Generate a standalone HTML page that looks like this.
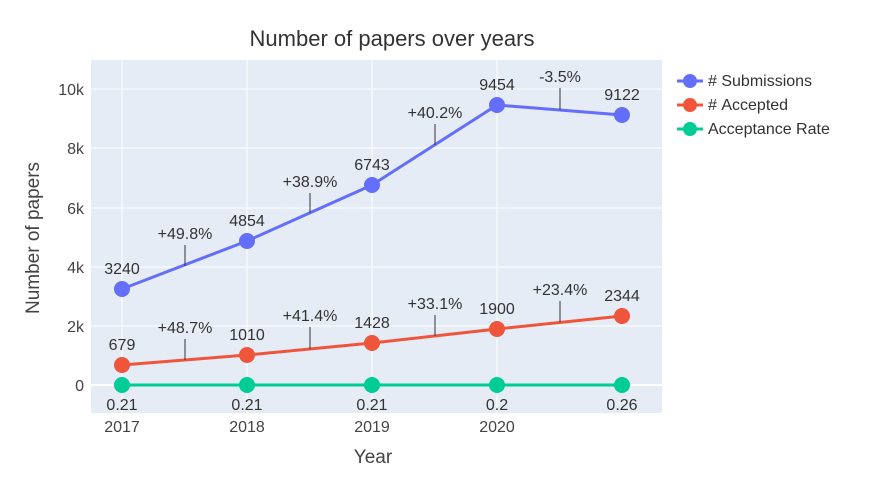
<!DOCTYPE html>
<html><head><meta charset="utf-8"><style>
html,body{margin:0;padding:0;background:#fff;}
svg{display:block;font-family:"Liberation Sans",sans-serif;}
</style></head><body>
<svg width="874" height="477" viewBox="0 0 874 477">
<rect x="91" y="60" width="571" height="353" fill="#e5ecf6"/>
<g stroke="#fff" stroke-width="1">
<line x1="122" y1="60" x2="122" y2="413"/><line x1="247" y1="60" x2="247" y2="413"/>
<line x1="372" y1="60" x2="372" y2="413"/><line x1="497" y1="60" x2="497" y2="413"/>
<line x1="91" y1="89" x2="662" y2="89"/><line x1="91" y1="148" x2="662" y2="148"/>
<line x1="91" y1="208" x2="662" y2="208"/><line x1="91" y1="267" x2="662" y2="267"/>
<line x1="91" y1="326" x2="662" y2="326"/>
</g>
<line x1="91" y1="385" x2="662" y2="385" stroke="#fff" stroke-width="2"/>
<text x="392" y="46" font-size="22" fill="#333" text-anchor="middle">Number of papers over years</text>
<g font-size="16" fill="#444" text-anchor="end">
<text x="84" y="95">10k</text><text x="84" y="154">8k</text><text x="84" y="214">6k</text>
<text x="84" y="273">4k</text><text x="84" y="332">2k</text><text x="84" y="391">0</text>
</g>
<g font-size="16" fill="#444" text-anchor="middle">
<text x="122" y="432">2017</text><text x="247" y="432">2018</text><text x="372" y="432">2019</text><text x="497" y="432">2020</text>
</g>
<text x="373" y="463" font-size="19" fill="#444" text-anchor="middle">Year</text>
<text transform="translate(39,238) rotate(-90)" font-size="19" fill="#444" text-anchor="middle">Number of papers</text>
<polyline points="122,289 247,241 372,185 497,105 622,115" fill="none" stroke="#636efa" stroke-width="3"/>
<polyline points="122,365 247,355 372,343 497,329 622,316" fill="none" stroke="#ef553b" stroke-width="3"/>
<polyline points="122,385 622,385" fill="none" stroke="#00cc96" stroke-width="3"/>
<g fill="#636efa"><circle cx="122" cy="289" r="8"/><circle cx="247" cy="241" r="8"/><circle cx="372" cy="185" r="8"/><circle cx="497" cy="105" r="8"/><circle cx="622" cy="115" r="8"/></g>
<g fill="#ef553b"><circle cx="122" cy="365" r="8"/><circle cx="247" cy="355" r="8"/><circle cx="372" cy="343" r="8"/><circle cx="497" cy="329" r="8"/><circle cx="622" cy="316" r="8"/></g>
<g fill="#00cc96"><circle cx="122" cy="385" r="8"/><circle cx="247" cy="385" r="8"/><circle cx="372" cy="385" r="8"/><circle cx="497" cy="385" r="8"/><circle cx="622" cy="385" r="8"/></g>
<g font-size="16" fill="#333" text-anchor="middle">
<text x="122" y="274">3240</text><text x="247" y="226">4854</text><text x="372" y="170">6743</text><text x="497" y="90">9454</text><text x="622" y="100">9122</text>
<text x="122" y="350">679</text><text x="247" y="340">1010</text><text x="372" y="328">1428</text><text x="497" y="314">1900</text><text x="622" y="301">2344</text>
<text x="122" y="410">0.21</text><text x="247" y="410">0.21</text><text x="372" y="410">0.21</text><text x="497" y="410">0.2</text><text x="622" y="410">0.26</text>
<text x="185" y="239">+49.8%</text><text x="310" y="187">+38.9%</text><text x="435" y="118">+40.2%</text><text x="560" y="82">-3.5%</text>
<text x="185" y="333">+48.7%</text><text x="310" y="321">+41.4%</text><text x="435" y="309">+33.1%</text><text x="560" y="295">+23.4%</text>
</g>
<g stroke="#333" stroke-width="1">
<line x1="185" y1="245" x2="185" y2="266"/><line x1="310" y1="193" x2="310" y2="213"/>
<line x1="435" y1="124" x2="435" y2="145"/><line x1="560" y1="88" x2="560" y2="110"/>
<line x1="185" y1="339" x2="185" y2="360"/><line x1="310" y1="327" x2="310" y2="349"/>
<line x1="435" y1="315" x2="435" y2="336"/><line x1="560" y1="301" x2="560" y2="322"/>
</g>
<g font-size="16" fill="#333">
<line x1="677" y1="81" x2="703" y2="81" stroke="#636efa" stroke-width="3"/><circle cx="690" cy="81" r="7" fill="#636efa"/>
<text x="708" y="86">#&#160;Submissions</text>
<line x1="677" y1="105" x2="703" y2="105" stroke="#ef553b" stroke-width="3"/><circle cx="690" cy="105" r="7" fill="#ef553b"/>
<text x="708" y="110">#&#160;Accepted</text>
<line x1="677" y1="129" x2="703" y2="129" stroke="#00cc96" stroke-width="3"/><circle cx="690" cy="129" r="7" fill="#00cc96"/>
<text x="708" y="134">Acceptance Rate</text>
</g>
</svg>
</body></html>
